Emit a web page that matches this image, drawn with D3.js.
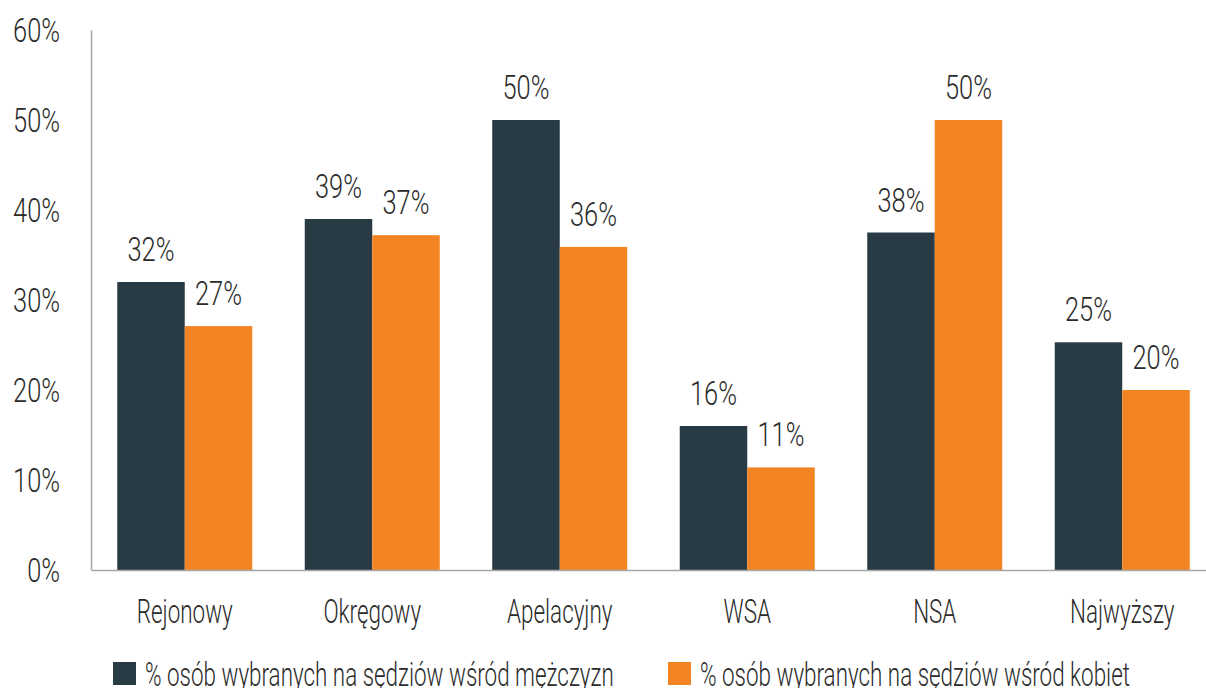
<!DOCTYPE html>
<html><head><meta charset="utf-8">
<script src="https://cdn.jsdelivr.net/npm/d3@7"></script>
<style>
html,body{margin:0;padding:0;background:#fff;}
svg text{font-family:Roboto,"Liberation Sans",sans-serif;font-weight:300;fill:#2b2b2b;}
</style></head>
<body><svg id="c" width="1206" height="688"></svg>
<script>
const categories = ["Rejonowy","Okręgowy","Apelacyjny","WSA","NSA","Najwyższy"];
const men = [32,39,50,16,37.5,25.3];
const women = [27.1,37.2,35.9,11.4,50,20];
const menLabels = ["32%","39%","50%","16%","38%","25%"];
const womenLabels = ["27%","37%","36%","11%","50%","20%"];
const yTicks = [0,10,20,30,40,50,60];
const seriesNames = ["% osób wybranych na sędziów wśród mężczyzn","% osób wybranych na sędziów wśród kobiet"];
const colors = ["#283a44","#f38424"];

const SX = 0.68, SXN = 0.77, FS = 33;
const svg = d3.select("#c");
const x = d3.scaleBand().domain(categories).range([91,1216]).paddingInner(0.28).paddingOuter(0.14);
const sub = d3.scaleBand().domain([0,1]).range([0,x.bandwidth()]);
const y = d3.scaleLinear().domain([0,60]).range([570,30]);

function txt(g, s, tx, ty, anchor, sx){
  return g.append("text").attr("transform",`translate(${tx},${ty}) scale(${sx},1)`)
    .attr("text-anchor",anchor).style("font-size",FS+"px").text(s);
}

// bars
const series = [men, women];
series.forEach((vals,si)=>{
  svg.append("g").selectAll("rect").data(categories).join("rect")
    .attr("x",(d)=>x(d)+sub(si)).attr("width",sub.bandwidth())
    .attr("y",(d,i)=>y(vals[i])).attr("height",(d,i)=>y(0)-y(vals[i]))
    .attr("fill",colors[si]);
});
// value labels
const lg = svg.append("g");
[menLabels, womenLabels].forEach((labs,si)=>{
  categories.forEach((c,i)=>{
    txt(lg, labs[i], x(c)+sub(si)+sub.bandwidth()/2, y(series[si][i])-21, "middle", SXN);
  });
});

// y axis
const ya = svg.append("g").attr("transform","translate(91,0)")
  .call(d3.axisLeft(y).tickValues(yTicks).tickSize(0).tickFormat(d=>d+"%"));
ya.select(".domain").attr("stroke","#a6a6a6").attr("stroke-width",1.5);
ya.selectAll("text").attr("x",null).attr("dy",null)
  .attr("transform",`translate(-31,11) scale(${SXN},1)`).attr("text-anchor","end")
  .style("font-size",FS+"px").attr("fill","#2b2b2b");
ya.attr("font-size",null).attr("font-family",null);

// x axis
const xa = svg.append("g").attr("transform","translate(0,570)")
  .call(d3.axisBottom(x).tickSize(0).tickSizeOuter(0));
xa.select(".domain").attr("stroke","#a6a6a6").attr("stroke-width",1.5);
xa.selectAll("text").attr("y",null).attr("dy",null)
  .attr("transform",`translate(0,53) scale(${SX},1)`).attr("text-anchor","middle")
  .style("font-size",FS+"px").attr("fill","#2b2b2b");
xa.attr("font-size",null).attr("font-family",null);

// legend
const leg = svg.append("g");
const legX = [113,668];
seriesNames.forEach((n,i)=>{
  leg.append("rect").attr("x",legX[i]).attr("y",662).attr("width",23).attr("height",23).attr("fill",colors[i]);
  txt(leg, n, legX[i]+32, 686, "start", SX);
});
</script></body></html>
